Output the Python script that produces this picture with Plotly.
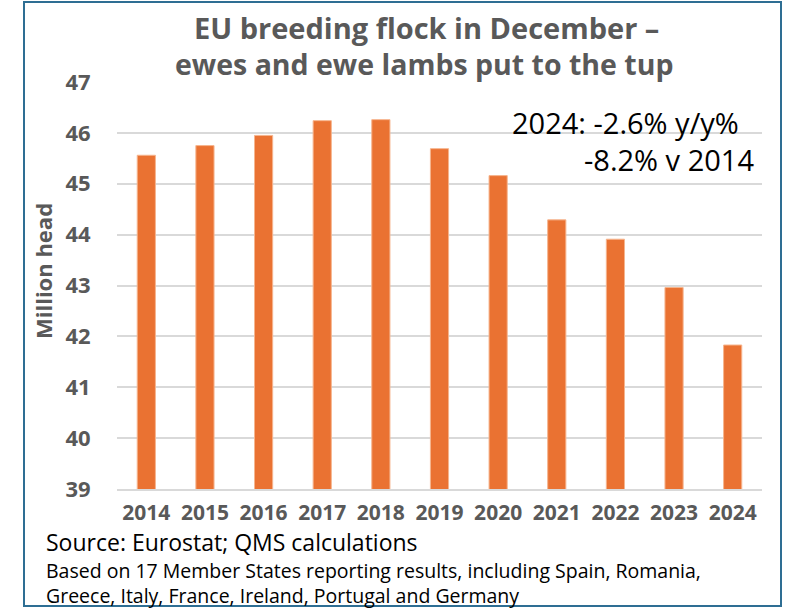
import plotly.graph_objects as go

years = ["2014", "2015", "2016", "2017", "2018", "2019", "2020", "2021", "2022", "2023", "2024"]
flock = [45.56, 45.75, 45.95, 46.24, 46.26, 45.69, 45.16, 44.29, 43.91, 42.96, 41.83]
y_ticks = [39, 40, 41, 42, 43, 44, 45, 46, 47]

W, H = 790, 608
L, R, T, B = 117, 762, 82, 489  # plot area pixels

def px(x):
    return (x - L) / (R - L)

def py(y):
    return (B - y) / (B - T)

fig = go.Figure(go.Bar(
    x=years, y=flock,
    marker=dict(color="#EA7232", line=dict(color="#F6B58E", width=1)),
))

GRAY = "#595959"
BOLD = "Open Sans"
REG = "Open Sans"

fig.update_layout(
    width=W, height=H,
    margin=dict(l=L, r=W - R, t=T, b=H - B),
    paper_bgcolor="white", plot_bgcolor="white",
    showlegend=False,
    bargap=0.69,
    font=dict(family=REG, color=GRAY),
)
fig.update_yaxes(
    range=[39, 47.0], tickvals=y_ticks, ticktext=[f"<b>{v}</b>" for v in y_ticks],
    showgrid=True, gridcolor="#D9D9D9", gridwidth=1.5,
    zeroline=False, ticks="outside", ticklen=21, tickcolor="rgba(255,255,255,0)",
    tickfont=dict(family=BOLD, size=22, color=GRAY),
)
fig.update_xaxes(
    showline=True, linecolor="#D9D9D9", linewidth=1.5, ticks="",
    tickvals=years, ticktext=[f"<b>{y}</b>" for y in years], ticklabelstandoff=4,
    tickfont=dict(family=BOLD, size=21, color=GRAY),
)

ann = []
ann.append(dict(text="<b>Million head</b>", x=px(43), y=py(271), xref="paper", yref="paper",
                showarrow=False, xanchor="center", yanchor="middle", textangle=-90,
                font=dict(family=BOLD, size=22, color=GRAY)))
ann.append(dict(text="<b>EU breeding flock in December –</b>", x=px(426), y=py(27), xref="paper", yref="paper",
                showarrow=False, xanchor="center", yanchor="middle",
                font=dict(family=BOLD, size=29, color=GRAY)))
ann.append(dict(text="<b>ewes and ewe lambs put to the tup</b>", x=px(424), y=py(64), xref="paper", yref="paper",
                showarrow=False, xanchor="center", yanchor="middle",
                font=dict(family=BOLD, size=28.5, color=GRAY)))
ann.append(dict(text="2024: -2.6% y/y%", x=px(741), y=py(122), xref="paper", yref="paper",
                showarrow=False, xanchor="right", yanchor="middle",
                font=dict(family=REG, size=29, color="black")))
ann.append(dict(text="-8.2% v 2014", x=px(756), y=py(159), xref="paper", yref="paper",
                showarrow=False, xanchor="right", yanchor="middle",
                font=dict(family=REG, size=29, color="black")))
ann.append(dict(text="Source: Eurostat; QMS calculations", x=px(44), y=py(542), xref="paper", yref="paper",
                showarrow=False, xanchor="left", yanchor="middle",
                font=dict(family=REG, size=23, color="black")))
ann.append(dict(text="Based on 17 Member States reporting results, including Spain, Romania,", x=px(44), y=py(570),
                xref="paper", yref="paper", showarrow=False, xanchor="left", yanchor="middle",
                font=dict(family=REG, size=19.5, color="black")))
ann.append(dict(text="Greece, Italy, France, Ireland, Portugal and Germany", x=px(44), y=py(595.5),
                xref="paper", yref="paper", showarrow=False, xanchor="left", yanchor="middle",
                font=dict(family=REG, size=19.5, color="black")))
fig.update_layout(annotations=ann)

fig.add_shape(type="rect", xref="paper", yref="paper",
              x0=px(24), x1=px(781), y0=py(2), y1=py(606),
              line=dict(color="#2E6E93", width=2), fillcolor="rgba(0,0,0,0)", layer="above")

fig.write_html("out.html", config={"displayModeBar": False},
               post_script="document.body.style.margin='0px';document.body.style.overflow='hidden';")
